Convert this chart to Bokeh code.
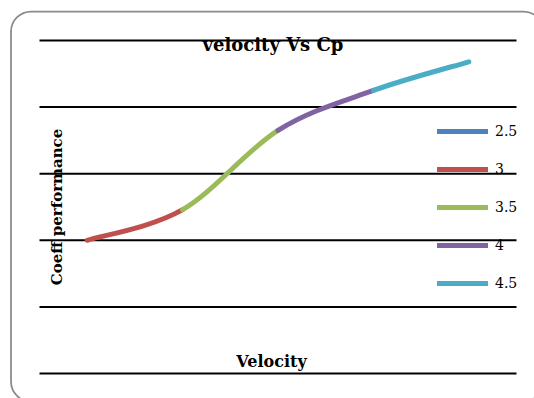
from bokeh.plotting import figure
from bokeh.models import Range1d, Label, Legend, LegendItem
from bokeh.embed import file_html
from bokeh.resources import INLINE
from math import pi

# Data (velocity categories and coefficient of performance)
velocity = [2.5, 3.0, 3.5, 4.0, 4.5]
velocity_labels = ["2.5", "3", "3.5", "4", "4.5"]
cp = [0.200, 0.246, 0.365, 0.425, 0.468]
y_ticks = [0.0, 0.1, 0.2, 0.3, 0.4, 0.5]
colors = ["#4F81BD", "#C0504D", "#9BBB59", "#8064A2", "#4BACC6"]

W, H = 534, 398
# data range shown by the canvas (the plot area 2.25..4.75 x 0..0.5 sits inside it)
X0, X1 = 2.0456, 4.8443
Y0, Y1 = -0.03754, 0.56006

def dx(px):
    return X0 + px * (X1 - X0) / W

def dy(py):
    return Y0 + (H - py) * (Y1 - Y0) / H

p = figure(width=W, height=H, output_backend="svg", toolbar_location=None,
           x_range=Range1d(X0, X1), y_range=Range1d(Y0, Y1), min_border=0)
p.xaxis.visible = False
p.yaxis.visible = False
p.xgrid.visible = False
p.ygrid.visible = False
p.outline_line_color = None
p.background_fill_color = "white"
p.border_fill_color = "white"

# rounded chart border (runs off the right and bottom edges)
p.quad(left=[dx(10.5)], right=[dx(543)], top=[dy(11)], bottom=[dy(401)],
       fill_color=None, line_color="#8a8a8a", line_width=1.75, border_radius=20)

# horizontal gridlines across the category extent
half = (velocity[1] - velocity[0]) / 2
p.segment(x0=[velocity[0] - half] * len(y_ticks), x1=[velocity[-1] + half] * len(y_ticks),
          y0=y_ticks, y1=y_ticks, line_color="black", line_width=2)

# smoothed line segments (Bezier, control points from neighbouring points)
n = len(velocity)
def pt(i):
    i = max(0, min(n - 1, i))
    return velocity[i], cp[i]

renderers = []
r0 = p.line([velocity[0]], [cp[0]], line_color=colors[0], line_width=5, line_cap="round")
renderers.append(r0)
for i in range(n - 1):
    x0, y0 = pt(i)
    x1, y1 = pt(i + 1)
    xm, ym = pt(i - 1)
    xp, yp = pt(i + 2)
    cx0 = x0 + (x1 - xm) / 6.0
    cy0 = y0 + (y1 - ym) / 6.0
    cx1 = x1 - (xp - x0) / 6.0
    cy1 = y1 - (yp - y0) / 6.0
    r = p.bezier(x0=[x0], y0=[y0], x1=[x1], y1=[y1], cx0=[cx0], cy0=[cy0], cx1=[cx1], cy1=[cy1],
                 line_color=colors[i + 1], line_width=5, line_cap="round")
    renderers.append(r)

legend = Legend(items=[LegendItem(label=velocity_labels[i], renderers=[renderers[i]]) for i in range(n)],
                location=(437, 105), orientation="vertical",
                background_fill_alpha=0, border_line_color=None,
                glyph_width=51, glyph_height=20, spacing=18, padding=0, margin=0,
                label_standoff=7, label_text_font="DejaVu Serif", label_text_font_size="14px",
                label_text_color="black")
p.add_layout(legend, "center")

p.add_layout(Label(x=272.5, y=354, x_units="screen", y_units="screen", text="velocity Vs Cp",
                   text_align="center", text_baseline="alphabetic", text_font="DejaVu Serif",
                   text_font_style="bold", text_font_size="18px", text_color="black"))
p.add_layout(Label(x=271, y=37, x_units="screen", y_units="screen", text="Velocity",
                   text_align="center", text_baseline="alphabetic", text_font="DejaVu Serif",
                   text_font_style="bold", text_font_size="16px", text_color="black"))
p.add_layout(Label(x=56, y=191.5, x_units="screen", y_units="screen", text="Coeff performance",
                   angle=pi / 2, text_align="center", text_baseline="middle", text_font="DejaVu Serif",
                   text_font_style="bold", text_font_size="15px", text_color="black"))

open("out.html", "w").write(file_html(p, INLINE))
